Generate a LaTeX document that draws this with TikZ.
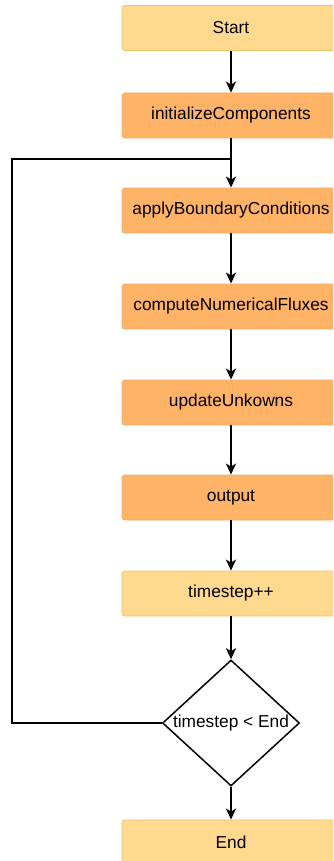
\documentclass[tikz,border=0pt]{standalone}
\usepackage{fontspec}
\setmainfont{Liberation Sans}
\usetikzlibrary{arrows.meta,shapes.geometric}
\definecolor{yfill}{HTML}{FFD98E}
\definecolor{ydraw}{HTML}{E8C46A}
\definecolor{ofill}{HTML}{FFB366}
\definecolor{odraw}{HTML}{F5AA5E}
\tikzset{
  base/.style={rectangle, rounded corners=3pt, minimum width=218pt, minimum height=45pt, inner sep=0pt, line width=0.8pt, font=\fontsize{17.3}{20}\selectfont},
  ybox/.style={base, fill=yfill, draw=ydraw},
  obox/.style={base, fill=ofill, draw=odraw},
  link/.style={line width=2pt, -{Stealth[length=11pt,width=10pt,inset=3pt]}},
  plain/.style={line width=2pt},
  dec/.style={diamond, draw, line width=1.5pt, minimum width=137pt, minimum height=126pt, inner sep=0pt, fill=white}
}
\begin{document}
\begin{tikzpicture}[x=1pt,y=-1pt]
\useasboundingbox (0,0) rectangle (333,861);
\begin{scope}
\clip (0,0) rectangle (333,861);
\node[ybox] (start) at (231,28) {Start};
\node[obox] (init) at (231,115.5) {initializeComponents};
\node[obox] (apply) at (231,210.5) {applyBoundaryConditions};
\node[obox] (flux) at (231,306.5) {computeNumericalFluxes};
\node[obox] (upd) at (231,402.5) {updateUnkowns};
\node[obox] (out) at (231,497.5) {output};
\node[ybox] (ts) at (231,593.5) {timestep++};
\node[dec] (cond) at (231,723) {};
\node[font=\fontsize{17.3}{20}\selectfont] (condtxt) at (231,723) {timestep < End};
\node[ybox] (end) at (231,842.5) {End};
\coordinate (j) at (231,159);
\coordinate (lt) at (12,159);
\coordinate (lb) at (12,723);
\draw[link] (start) -- (init);
\draw[link] (init) -- (apply);
\draw[link] (apply) -- (flux);
\draw[link] (flux) -- (upd);
\draw[link] (upd) -- (out);
\draw[link] (out) -- (ts);
\draw[link] (ts) -- (cond);
\draw[link] (cond) -- (end);
\draw[plain, line join=miter] (cond.west) -- (lb) -- (lt) -- (j);
\end{scope}
\end{tikzpicture}
\end{document}
